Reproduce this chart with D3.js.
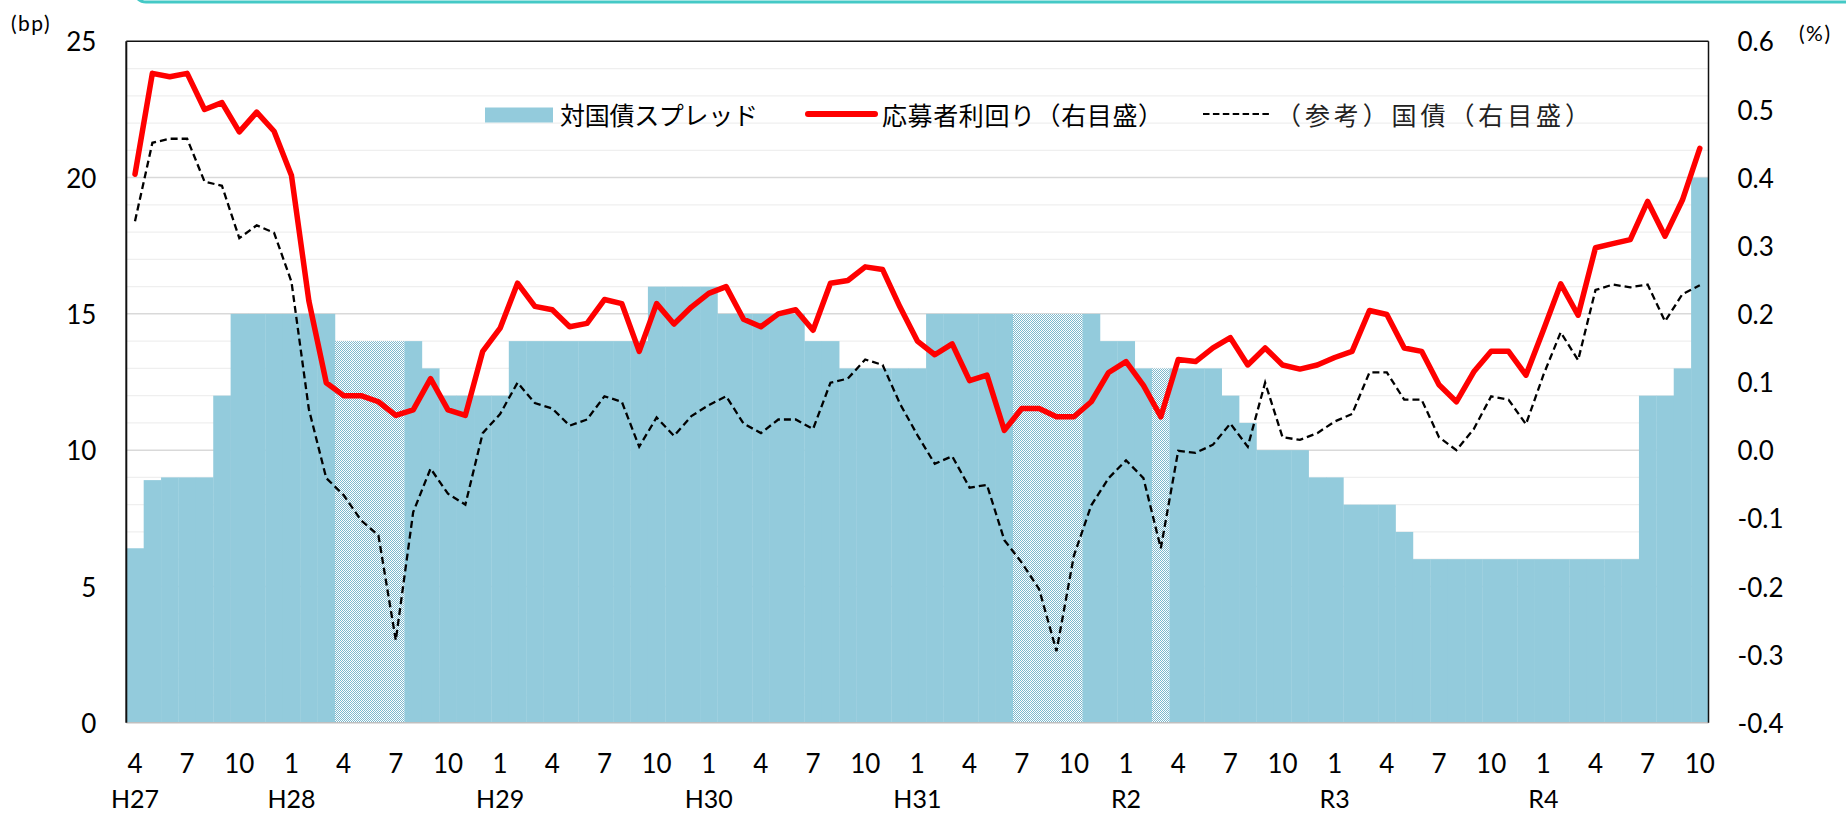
<!DOCTYPE html>
<html>
<head>
<meta charset="utf-8">
<script src="https://cdn.jsdelivr.net/npm/d3@7"></script>
<style>
  html, body { margin: 0; padding: 0; background: #fff; }
  svg { display: block; }
</style>
</head>
<body>
<div id="chart"></div>
<script>
// monthly categories, H27/4 (2015-04) .. R4/10 (2022-10)
const months = [
  "2015-04","2015-05","2015-06","2015-07","2015-08","2015-09","2015-10","2015-11","2015-12",
  "2016-01","2016-02","2016-03","2016-04","2016-05","2016-06","2016-07","2016-08","2016-09","2016-10","2016-11","2016-12",
  "2017-01","2017-02","2017-03","2017-04","2017-05","2017-06","2017-07","2017-08","2017-09","2017-10","2017-11","2017-12",
  "2018-01","2018-02","2018-03","2018-04","2018-05","2018-06","2018-07","2018-08","2018-09","2018-10","2018-11","2018-12",
  "2019-01","2019-02","2019-03","2019-04","2019-05","2019-06","2019-07","2019-08","2019-09","2019-10","2019-11","2019-12",
  "2020-01","2020-02","2020-03","2020-04","2020-05","2020-06","2020-07","2020-08","2020-09","2020-10","2020-11","2020-12",
  "2021-01","2021-02","2021-03","2021-04","2021-05","2021-06","2021-07","2021-08","2021-09","2021-10","2021-11","2021-12",
  "2022-01","2022-02","2022-03","2022-04","2022-05","2022-06","2022-07","2022-08","2022-09","2022-10"
];

// 対国債スプレッド (bp, left axis)
const spread = [
  6.4, 8.9, 9, 9, 9, 12, 15, 15, 15,
  15, 15, 15, 14, 14, 14, 14, 14, 13, 12, 12, 12,
  12, 14, 14, 14, 14, 14, 14, 14, 14, 16, 16, 16,
  16, 15, 15, 15, 15, 15, 14, 14, 13, 13, 13, 13,
  13, 15, 15, 15, 15, 15, 15, 15, 15, 15, 15, 14,
  14, 13, 13, 13, 13, 13, 12, 11, 10, 10, 10, 9,
  9, 8, 8, 8, 7, 6, 6, 6, 6, 6, 6, 6,
  6, 6, 6, 6, 6, 6, 12, 12, 13, 20
];

// months whose spread bar is drawn with the dotted pattern
const patternMonths = ["2016-04","2016-05","2016-06","2016-07","2019-07","2019-08","2019-09","2019-10","2020-03"];

// 応募者利回り (%, right axis)
const applicantYield = [
  0.405, 0.553, 0.548, 0.553, 0.500, 0.510, 0.467, 0.496, 0.468,
  0.403, 0.219, 0.099, 0.080, 0.080, 0.071, 0.051, 0.059, 0.105, 0.059, 0.051, 0.145,
  0.179, 0.245, 0.211, 0.206, 0.181, 0.186, 0.221, 0.215, 0.145, 0.215, 0.185, 0.210,
  0.230, 0.240, 0.192, 0.181, 0.200, 0.206, 0.176, 0.245, 0.249, 0.269, 0.265, 0.210,
  0.160, 0.140, 0.156, 0.102, 0.110, 0.029, 0.061, 0.061, 0.049, 0.049, 0.071, 0.114,
  0.130, 0.095, 0.049, 0.133, 0.130, 0.150, 0.165, 0.125, 0.150, 0.125, 0.119, 0.125,
  0.136, 0.145, 0.205, 0.199, 0.150, 0.145, 0.096, 0.071, 0.115, 0.145, 0.145, 0.110,
  0.176, 0.244, 0.198, 0.297, 0.303, 0.309, 0.365, 0.314, 0.367, 0.443
];

// （参考）国債 (%, right axis)
const jgbYield = [
  0.336, 0.451, 0.457, 0.457, 0.394, 0.388, 0.311, 0.330, 0.319,
  0.247, 0.060, -0.041, -0.066, -0.103, -0.125, -0.279, -0.091, -0.027, -0.064, -0.080, 0.025,
  0.053, 0.099, 0.069, 0.061, 0.036, 0.045, 0.079, 0.071, 0.005, 0.048, 0.021, 0.050,
  0.066, 0.079, 0.039, 0.025, 0.045, 0.045, 0.031, 0.099, 0.105, 0.133, 0.125, 0.068,
  0.022, -0.020, -0.009, -0.055, -0.051, -0.132, -0.165, -0.204, -0.295, -0.155, -0.081, -0.041,
  -0.015, -0.041, -0.144, -0.001, -0.004, 0.008, 0.039, 0.005, 0.099, 0.019, 0.015, 0.025,
  0.042, 0.053, 0.114, 0.114, 0.074, 0.074, 0.019, 0.000, 0.031, 0.079, 0.074, 0.038,
  0.110, 0.173, 0.132, 0.235, 0.243, 0.239, 0.243, 0.189, 0.229, 0.242
];

const leftTicks = [0, 5, 10, 15, 20, 25];
const rightTicks = [-0.4, -0.3, -0.2, -0.1, 0.0, 0.1, 0.2, 0.3, 0.4, 0.5, 0.6];
const eraLabels = [
  ["2015-04", "H27"], ["2016-01", "H28"], ["2017-01", "H29"], ["2018-01", "H30"],
  ["2019-01", "H31"], ["2020-01", "R2"], ["2021-01", "R3"], ["2022-01", "R4"]
];
const legendNames = ["対国債スプレッド", "応募者利回り（右目盛）", "（参考）国債（右目盛）"];

const W = 1846, H = 815;
const L = 126.3, R = 1708.5, T = 41.3, B = 722.7;
const barColor = "#93cbdc";
const numFont = "Lato, 'Noto Sans', sans-serif";
const jpFont = "'Noto Sans CJK JP', 'Noto Sans', sans-serif";

const svg = d3.select("#chart").append("svg").attr("width", W).attr("height", H);

// dotted fill for some months
const defs = svg.append("defs");
const pat = defs.append("pattern").attr("id", "dots")
  .attr("patternUnits", "userSpaceOnUse").attr("width", 2).attr("height", 2);
pat.append("rect").attr("width", 2).attr("height", 2).attr("fill", "#ffffff");
pat.append("rect").attr("width", 1).attr("height", 1).attr("fill", "#7db9cd");
pat.append("rect").attr("x", 1).attr("y", 1).attr("width", 1).attr("height", 1).attr("fill", "#7db9cd");

// teal frame edge at the very top
svg.append("rect").attr("x", 134).attr("y", -40).attr("width", 1760).attr("height", 42)
  .attr("rx", 12).attr("fill", "none").attr("stroke", "#44c9c6").attr("stroke-width", 3);

const x = d3.scaleBand().domain(months).range([L, R]).padding(0);
const yL = d3.scaleLinear().domain([0, 25]).range([B, T]);
const yR = d3.scaleLinear().domain([-0.4, 0.6]).range([B, T]);

// gridlines every 1bp
const grid = svg.append("g");
grid.selectAll("line").data(d3.range(1, 25)).enter().append("line")
  .attr("x1", L).attr("x2", R)
  .attr("y1", d => yL(d)).attr("y2", d => yL(d))
  .attr("stroke", d => d % 5 === 0 ? "#d9d9d9" : "#efefef")
  .attr("stroke-width", d => d % 5 === 0 ? 1.5 : 1.3);

// bars
svg.append("g").selectAll("rect").data(months).enter().append("rect")
  .attr("x", d => x(d))
  .attr("width", x.bandwidth() + 0.3)
  .attr("y", (d, i) => yL(spread[i]))
  .attr("height", (d, i) => B - yL(spread[i]))
  .attr("fill", d => patternMonths.includes(d) ? "url(#dots)" : barColor);

// frame
svg.append("line").attr("x1", L).attr("x2", R).attr("y1", B).attr("y2", B)
  .attr("stroke", "#bfbfbf").attr("stroke-width", 1.5);
svg.append("line").attr("x1", L).attr("x2", R).attr("y1", T).attr("y2", T)
  .attr("stroke", "#111").attr("stroke-width", 1.5);
svg.append("line").attr("x1", L).attr("x2", L).attr("y1", T).attr("y2", B)
  .attr("stroke", "#111").attr("stroke-width", 2);
svg.append("line").attr("x1", R).attr("x2", R).attr("y1", T).attr("y2", B)
  .attr("stroke", "#111").attr("stroke-width", 1.5);

// lines
const cx = d => x(d) + x.bandwidth() / 2;
const jgbLine = d3.line().x(d => cx(d)).y((d, i) => yR(jgbYield[i]));
const appLine = d3.line().x(d => cx(d)).y((d, i) => yR(applicantYield[i]));

svg.append("path").datum(months).attr("d", jgbLine)
  .attr("fill", "none").attr("stroke", "#000").attr("stroke-width", 2.3)
  .attr("stroke-dasharray", "7,4");
svg.append("path").datum(months).attr("d", appLine)
  .attr("fill", "none").attr("stroke", "#ff0000").attr("stroke-width", 5.5)
  .attr("stroke-linejoin", "round").attr("stroke-linecap", "round");

// axes
const styleAxis = g => {
  g.select(".domain").remove();
  g.selectAll("text").attr("font-family", numFont).attr("font-size", 26).attr("fill", "#000");
};
svg.append("g").attr("transform", `translate(${L},0)`)
  .call(d3.axisLeft(yL).tickValues(leftTicks).tickSize(0).tickPadding(30))
  .call(styleAxis)
  .selectAll("text").attr("dy", "0.37em");
svg.append("g").attr("transform", `translate(${R},0)`)
  .call(d3.axisRight(yR).tickValues(rightTicks).tickFormat(d => d.toFixed(1)).tickSize(0).tickPadding(29))
  .call(styleAxis)
  .selectAll("text").attr("dy", "0.37em");
svg.append("g").attr("transform", `translate(0,${B})`)
  .call(d3.axisBottom(x)
    .tickValues(months.filter(m => (+m.slice(5) - 1) % 3 === 0))
    .tickFormat(m => +m.slice(5)).tickSize(0).tickPadding(32))
  .call(styleAxis);

svg.append("g").selectAll("text").data(eraLabels).enter().append("text")
  .attr("x", d => cx(d[0])).attr("y", 808)
  .attr("text-anchor", "middle")
  .attr("font-family", numFont).attr("font-size", 25)
  .text(d => d[1]);

// unit labels
svg.append("text").attr("x", 11).attr("y", 31)
  .attr("font-family", numFont).attr("font-size", 21).attr("letter-spacing", 1.5).text("(bp)");
svg.append("text").attr("x", 1799).attr("y", 41)
  .attr("font-family", numFont).attr("font-size", 21).attr("letter-spacing", 1.5).text("(%)");

// legend
const lg = svg.append("g");
const ly = 114;
lg.append("rect").attr("x", 485).attr("y", 107.5).attr("width", 68).attr("height", 15).attr("fill", barColor);
lg.append("text").attr("x", 560).attr("y", ly).attr("dominant-baseline", "central")
  .attr("font-family", jpFont).attr("font-size", 25)
  .attr("textLength", 198).attr("lengthAdjust", "spacing").text(legendNames[0]);
lg.append("line").attr("x1", 808).attr("x2", 875).attr("y1", ly).attr("y2", ly)
  .attr("stroke", "#ff0000").attr("stroke-width", 6).attr("stroke-linecap", "round");
lg.append("text").attr("x", 882).attr("y", ly).attr("dominant-baseline", "central")
  .attr("font-family", jpFont).attr("font-size", 25)
  .attr("textLength", 281).attr("lengthAdjust", "spacing").text(legendNames[1]);
lg.append("line").attr("x1", 1203).attr("x2", 1272).attr("y1", ly).attr("y2", ly)
  .attr("stroke", "#000").attr("stroke-width", 2).attr("stroke-dasharray", "6.5,3.4");
lg.append("text").attr("x", 1276).attr("y", ly).attr("dominant-baseline", "central")
  .attr("font-family", jpFont).attr("font-size", 25).attr("fill", "#222")
  .attr("textLength", 314).attr("lengthAdjust", "spacing").text(legendNames[2]);
</script>
</body>
</html>
